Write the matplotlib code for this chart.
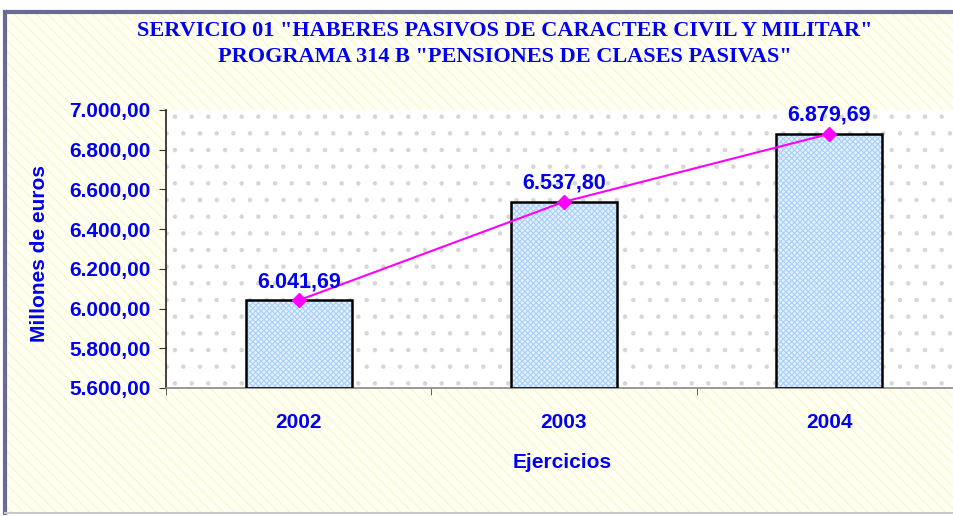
import matplotlib.pyplot as plt
import numpy as np
from matplotlib.lines import Line2D
from matplotlib.patches import Rectangle
from matplotlib.ticker import FuncFormatter, FixedLocator

years = ["2002", "2003", "2004"]
values = [6041.69, 6537.80, 6879.69]
y_ticks = [5600, 5800, 6000, 6200, 6400, 6600, 6800, 7000]

title = ('SERVICIO 01 "HABERES PASIVOS DE CARACTER CIVIL Y MILITAR"\n'
         'PROGRAMA 314 B "PENSIONES DE CLASES PASIVAS"')

BLUE = "#0000ee"
SANS = "Liberation Sans"
FRAME = "#6a6a94"
plt.rcParams["hatch.linewidth"] = 0.8


def es_number(v, _pos=None):
    s = f"{v:,.2f}"
    return s.replace(",", "X").replace(".", ",").replace("X", ".")


W, H = 954, 516
fig = plt.figure(figsize=(W / 100, H / 100), dpi=100)
fig.patch.set_facecolor("white")

# chart frame with pale yellow diagonal texture
fx0, fy0 = 5 / W, 1 - 513 / H
fw, fh = 1.5, (513 - 12) / H
fig.add_artist(Rectangle((fx0, fy0), fw, fh, transform=fig.transFigure,
                         facecolor="#fffff2", edgecolor="none", zorder=-5))
fig.add_artist(Rectangle((fx0, fy0), fw, fh, transform=fig.transFigure,
                         facecolor="none", edgecolor="#f6f6cc", hatch="\\\\\\",
                         linewidth=0, zorder=-4))
fig.add_artist(Line2D([fx0, fx0], [fy0, 1 - 12 / H], transform=fig.transFigure,
                      color=FRAME, linewidth=3, zorder=-3))
fig.add_artist(Line2D([fx0, 1.5], [1 - 12 / H, 1 - 12 / H], transform=fig.transFigure,
                      color=FRAME, linewidth=3, zorder=-3))
fig.add_artist(Line2D([fx0, 1.5], [fy0, fy0], transform=fig.transFigure,
                      color="#c8c8c8", linewidth=1.5, zorder=-3))

ax = fig.add_axes([166 / W, 1 - 388 / H, (962 - 166) / W, (388 - 110) / H])
ax.set_facecolor("white")
ax.add_patch(Rectangle((0, 0), 1, 1, transform=ax.transAxes, facecolor="none",
                       edgecolor="#d6d6d6", hatch=".", linewidth=0, zorder=0))

x = np.arange(len(years))
heights = np.array(values) - y_ticks[0]
ax.bar(x, heights, bottom=y_ticks[0], width=0.4, color="#e4f0ff",
       edgecolor="#a8d0f8", hatch="xxxxxx", linewidth=0, zorder=2)
ax.bar(x, heights, bottom=y_ticks[0], width=0.4, fill=False,
       edgecolor="black", linewidth=1.8, zorder=3)

ax.plot(x, values, color="#ff00ff", linewidth=1.5, marker="D", markersize=7,
        zorder=4, clip_on=False)
for xi, v in zip(x, values):
    ax.text(xi, v + 40, es_number(v), ha="center", va="bottom", color=BLUE,
            fontsize=15.5, fontweight="bold", family=SANS, zorder=5)

ax.set_xlim(-0.5, 2.5)
ax.set_ylim(5600, 7000)
ax.yaxis.set_major_locator(FixedLocator(y_ticks))
ax.yaxis.set_major_formatter(FuncFormatter(es_number))
ax.set_xticks(x)
ax.set_xticklabels(years)
ax.set_xticks([-0.5, 0.5, 1.5, 2.5], minor=True)
ax.tick_params(axis="x", which="major", length=0, pad=18)
ax.tick_params(axis="x", which="minor", length=5, direction="out", color="#444444")
ax.tick_params(axis="y", length=5, direction="out", color="#333333", pad=6)
for lab in ax.get_xticklabels() + ax.get_yticklabels():
    lab.set_color(BLUE)
    lab.set_fontweight("bold")
    lab.set_fontsize(15)
    lab.set_family(SANS)

for side in ["top", "right"]:
    ax.spines[side].set_visible(False)
ax.spines["left"].set_color("#222222")
ax.spines["left"].set_linewidth(1.2)
ax.spines["bottom"].set_color("#888888")
ax.spines["bottom"].set_linewidth(1.2)

fig.text(40 / W, 1 - 253 / H, "Millones de euros", ha="center", va="center",
         rotation=90, color=BLUE, fontsize=15, fontweight="bold", family=SANS)
fig.text(562 / W, 1 - 462 / H, "Ejercicios", ha="center", va="center", color=BLUE,
         fontsize=15, fontweight="bold", family=SANS)

fig.text(505 / W, 1 - 44 / H, title, ha="center", va="center", color=BLUE,
         fontsize=16, fontweight="bold", family="Liberation Serif", linespacing=1.4)

fig.savefig("out.png", dpi=100)
